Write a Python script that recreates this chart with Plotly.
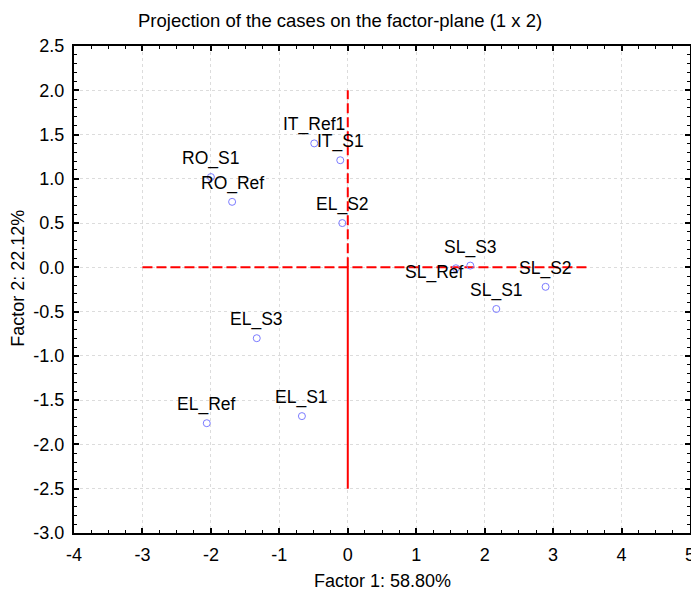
import plotly.graph_objects as go

# ---- data ----
case_labels = ["IT_Ref1", "IT_S1", "RO_S1", "RO_Ref", "EL_S2", "SL_S3",
               "SL_Ref", "SL_S2", "SL_S1", "EL_S3", "EL_Ref", "EL_S1"]
factor1 = [-0.49, -0.11, -2.00, -1.69, -0.08, 1.79, 1.58, 2.89, 2.17, -1.33, -2.06, -0.67]
factor2 = [1.40, 1.21, 1.02, 0.74, 0.50, 0.02, -0.01, -0.22, -0.47, -0.80, -1.76, -1.68]

h_line_x = [-3.0, 3.5]
h_line_y = [0.0, 0.0]
v_up_x = [0.0, 0.0]
v_up_y = [0.0, 2.0]
v_down_x = [0.0, 0.0]
v_down_y = [0.0, -2.5]

x_ticks = [-4, -3, -2, -1, 0, 1, 2, 3, 4, 5]
y_ticks = [2.5, 2.0, 1.5, 1.0, 0.5, 0.0, -0.5, -1.0, -1.5, -2.0, -2.5, -3.0]

title_text = "Projection of the cases on the factor-plane (1 x 2)"
x_title = "Factor 1: 58.80%"
y_title = "Factor 2: 22.12%"

FONT = "Liberation Sans, Arial, sans-serif"
RED = "#ff0000"

fig = go.Figure()
fig.add_trace(go.Scatter(x=h_line_x, y=h_line_y, mode="lines",
                         line=dict(color=RED, width=2, dash="10px,4px"),
                         hoverinfo="skip", showlegend=False))
fig.add_trace(go.Scatter(x=v_up_x, y=v_up_y, mode="lines",
                         line=dict(color=RED, width=2, dash="10px,4px"),
                         hoverinfo="skip", showlegend=False))
fig.add_trace(go.Scatter(x=v_down_x, y=v_down_y, mode="lines",
                         line=dict(color=RED, width=2),
                         hoverinfo="skip", showlegend=False))
fig.add_trace(go.Scatter(x=factor1, y=factor2, mode="markers",
                         marker=dict(symbol="circle-open", size=7,
                                     color="#7b7bff", line=dict(width=1)),
                         showlegend=False))

# per-label offsets (style only)
special = {"SL_Ref": (-21, -17)}
for lab, xv, yv in zip(case_labels, factor1, factor2):
    xs, ys = special.get(lab, (0, 6))
    fig.add_annotation(x=xv, y=yv, text=lab, showarrow=False,
                       xanchor="center", yanchor="bottom",
                       xshift=xs, yshift=ys,
                       font=dict(family=FONT, size=17.5, color="#000000"))

fig.add_annotation(xref="paper", yref="paper", x=0.432, y=1, yshift=26,
                   text=title_text, showarrow=False, xanchor="center",
                   yanchor="middle", font=dict(family=FONT, size=18.5, color="#000"))
fig.add_annotation(xref="paper", yref="paper", x=0.5, y=0, yshift=-48,
                   text=x_title, showarrow=False, xanchor="center",
                   yanchor="middle", font=dict(family=FONT, size=18, color="#000"))
fig.add_annotation(xref="paper", yref="paper", x=0, xshift=-56, y=0.522,
                   text=y_title, showarrow=False, textangle=-90,
                   xanchor="center", yanchor="middle",
                   font=dict(family=FONT, size=18, color="#000"))

axis_common = dict(
    showline=True, linecolor="#000000", linewidth=2, mirror="allticks",
    ticks="inside", ticklen=5, tickwidth=1.5, tickcolor="#000000",
    showgrid=True, gridcolor="#dcdcdc", gridwidth=1, griddash="3px,3px",
    zeroline=False, tickfont=dict(family=FONT, size=18, color="#000000"),
    ticklabeloverflow="allow", automargin=False,
)

fig.update_xaxes(range=[-4, 5], tickvals=x_ticks,
                 ticktext=[str(v) for v in x_ticks],
                 minor=dict(dtick=0.25, tick0=0, ticks="inside", ticklen=3,
                            tickcolor="#000000", tickwidth=1, showgrid=False),
                 ticklabelstandoff=4, **axis_common)
fig.update_yaxes(range=[-3, 2.5], tickvals=y_ticks,
                 ticktext=[f"{v:.1f}" for v in y_ticks],
                 minor=dict(dtick=0.1, tick0=0, ticks="inside", ticklen=3,
                            tickcolor="#000000", tickwidth=1, showgrid=False),
                 ticklabelstandoff=4, **axis_common)

fig.update_layout(width=691, height=597,
                  margin=dict(l=74, r=1, t=46, b=64),
                  plot_bgcolor="#ffffff", paper_bgcolor="#ffffff",
                  showlegend=False)

fig.write_html("out.html")
